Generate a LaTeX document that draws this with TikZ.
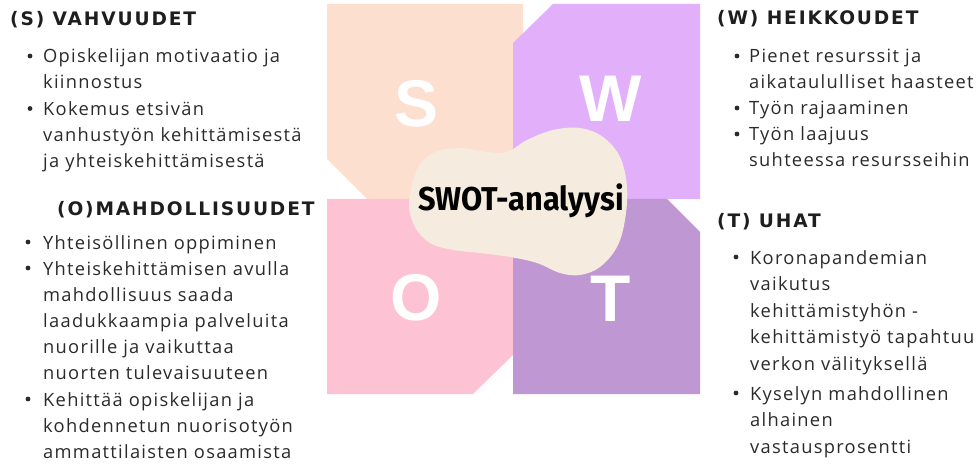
\documentclass[tikz,border=0pt]{standalone}
\usepackage{fontspec}
\setmainfont{Open Sans}
\newfontfamily\bodyfam{Open Sans}[LetterSpace=7]
\newfontfamily\headfam{DejaVu Sans}[LetterSpace=10]
\newfontfamily\swotfam{Fira Sans}[FakeStretch=0.93]
\newfontfamily\bigfam{Liberation Sans}
\definecolor{speach}{HTML}{FDDFCF}
\definecolor{wlav}{HTML}{E2AFFB}
\definecolor{opink}{HTML}{FDC2D3}
\definecolor{tpurp}{HTML}{BF97D2}
\definecolor{blobc}{HTML}{F5EBDF}
\definecolor{headc}{HTML}{1E1E1E}
\definecolor{bodyc}{HTML}{2A2A2A}
\begin{document}
\begin{tikzpicture}[x=1pt,y=-1pt,
  head/.style={font=\headfam\bfseries\fontsize{18.6}{26}\selectfont, text=headc, inner sep=0pt, anchor=base west},
  itemtxt/.style={font=\bodyfam\fontsize{18.3}{26}\selectfont, text=bodyc, inner sep=0pt, anchor=base west, align=left},
  itemtxtt/.style={font=\bodyfam\fontsize{18.3}{26.5}\selectfont, text=bodyc, inner sep=0pt, anchor=base west, align=left},
  dotmark/.style={circle, fill=bodyc, inner sep=0pt, minimum size=4.8pt},
  bigletter/.style={font=\bigfam\bfseries\fontsize{66}{66}\selectfont, text=white, inner sep=0pt, anchor=center}
]
\useasboundingbox (0,0) rectangle (977,473);
% quadrants
\fill[speach] (327,4) -- (523,4) -- (523,199) -- (367,199) -- (327,159) -- cycle;
\fill[opink] (327,199) -- (513,199) -- (513,355) -- (473,394) -- (327,394) -- cycle;
\fill[wlav] (553,4) -- (700,4) -- (700,199) -- (513,199) -- (513,43) -- cycle;
\fill[tpurp] (513,199) -- (667,199) -- (700,232) -- (700,394) -- (513,394) -- cycle;
% big letters
\node[bigletter] (bs) at (417,104) {S};
\node[bigletter] (bw) at (611,99) {W};
\node[bigletter] (bo) at (416,298) {O};
\node[bigletter] (bt) at (611,299) {T};
% blob
\fill[blobc] plot[smooth cycle, tension=0.6] coordinates {
 (409,203) (417,170) (433,153) (460,148) (487,152) (507,152) (527,140) (553,130)
 (580,128) (603,137) (620,157) (627,187) (625,220) (617,247) (600,267) (580,275)
 (560,273) (537,263) (510,257) (480,253) (453,250) (430,243) (415,227)};
\node[font=\swotfam\bfseries\fontsize{33}{33}\selectfont, inner sep=0pt, anchor=base, text=black] (title) at (521,211) {SWOT-analyysi};
% S
\node[head] (sh) at (10,26) {(S) VAHVUUDET};
\node[dotmark] (sd1) at (30,56) {};
\node[itemtxt] (si1) at (43,89) {Opiskelijan motivaatio ja\\kiinnostus};
\node[dotmark] (sd2) at (30,108.5) {};
\node[itemtxt] (si2) at (43,167.5) {Kokemus etsivän\\vanhustyön kehittämisestä\\ja yhteiskehittämisestä};
% O
\node[head] (oh) at (57,215) {(O)MAHDOLLISUUDET};
\node[dotmark] (od1) at (28,242) {};
\node[itemtxt] (oi1) at (43,249) {Yhteisöllinen oppiminen};
\node[dotmark] (od2) at (28,268) {};
\node[itemtxt] (oi2) at (43,379) {Yhteiskehittämisen avulla\\mahdollisuus saada\\laadukkaampia palveluita\\nuorille ja vaikuttaa\\nuorten tulevaisuuteen};
\node[dotmark] (od3) at (28,399) {};
\node[itemtxt] (oi3) at (43,458) {Kehittää opiskelijan ja\\kohdennetun nuorisotyön\\ammattilaisten osaamista};
% W
\node[head] (wh) at (717,25) {(W) HEIKKOUDET};
\node[dotmark] (wd1) at (737,56) {};
\node[itemtxt] (wi1) at (749,89) {Pienet resurssit ja\\aikataululliset haasteet};
\node[dotmark] (wd2) at (737,108) {};
\node[itemtxt] (wi2) at (749,115) {Työn rajaaminen};
\node[dotmark] (wd3) at (737,134) {};
\node[itemtxt] (wi3) at (749,167) {Työn laajuus\\suhteessa resursseihin};
% T
\node[head] (th) at (717,227) {(T) UHAT};
\node[dotmark] (td1) at (736,257) {};
\node[itemtxtt] (ti1) at (750,370) {Koronapandemian\\vaikutus\\kehittämistyhön -\\kehittämistyö tapahtuu\\verkon välityksellä};
\node[dotmark] (td2) at (736,393) {};
\node[itemtxtt] (ti2) at (750,453) {Kyselyn mahdollinen\\alhainen\\vastausprosentti};
\end{tikzpicture}
\end{document}
